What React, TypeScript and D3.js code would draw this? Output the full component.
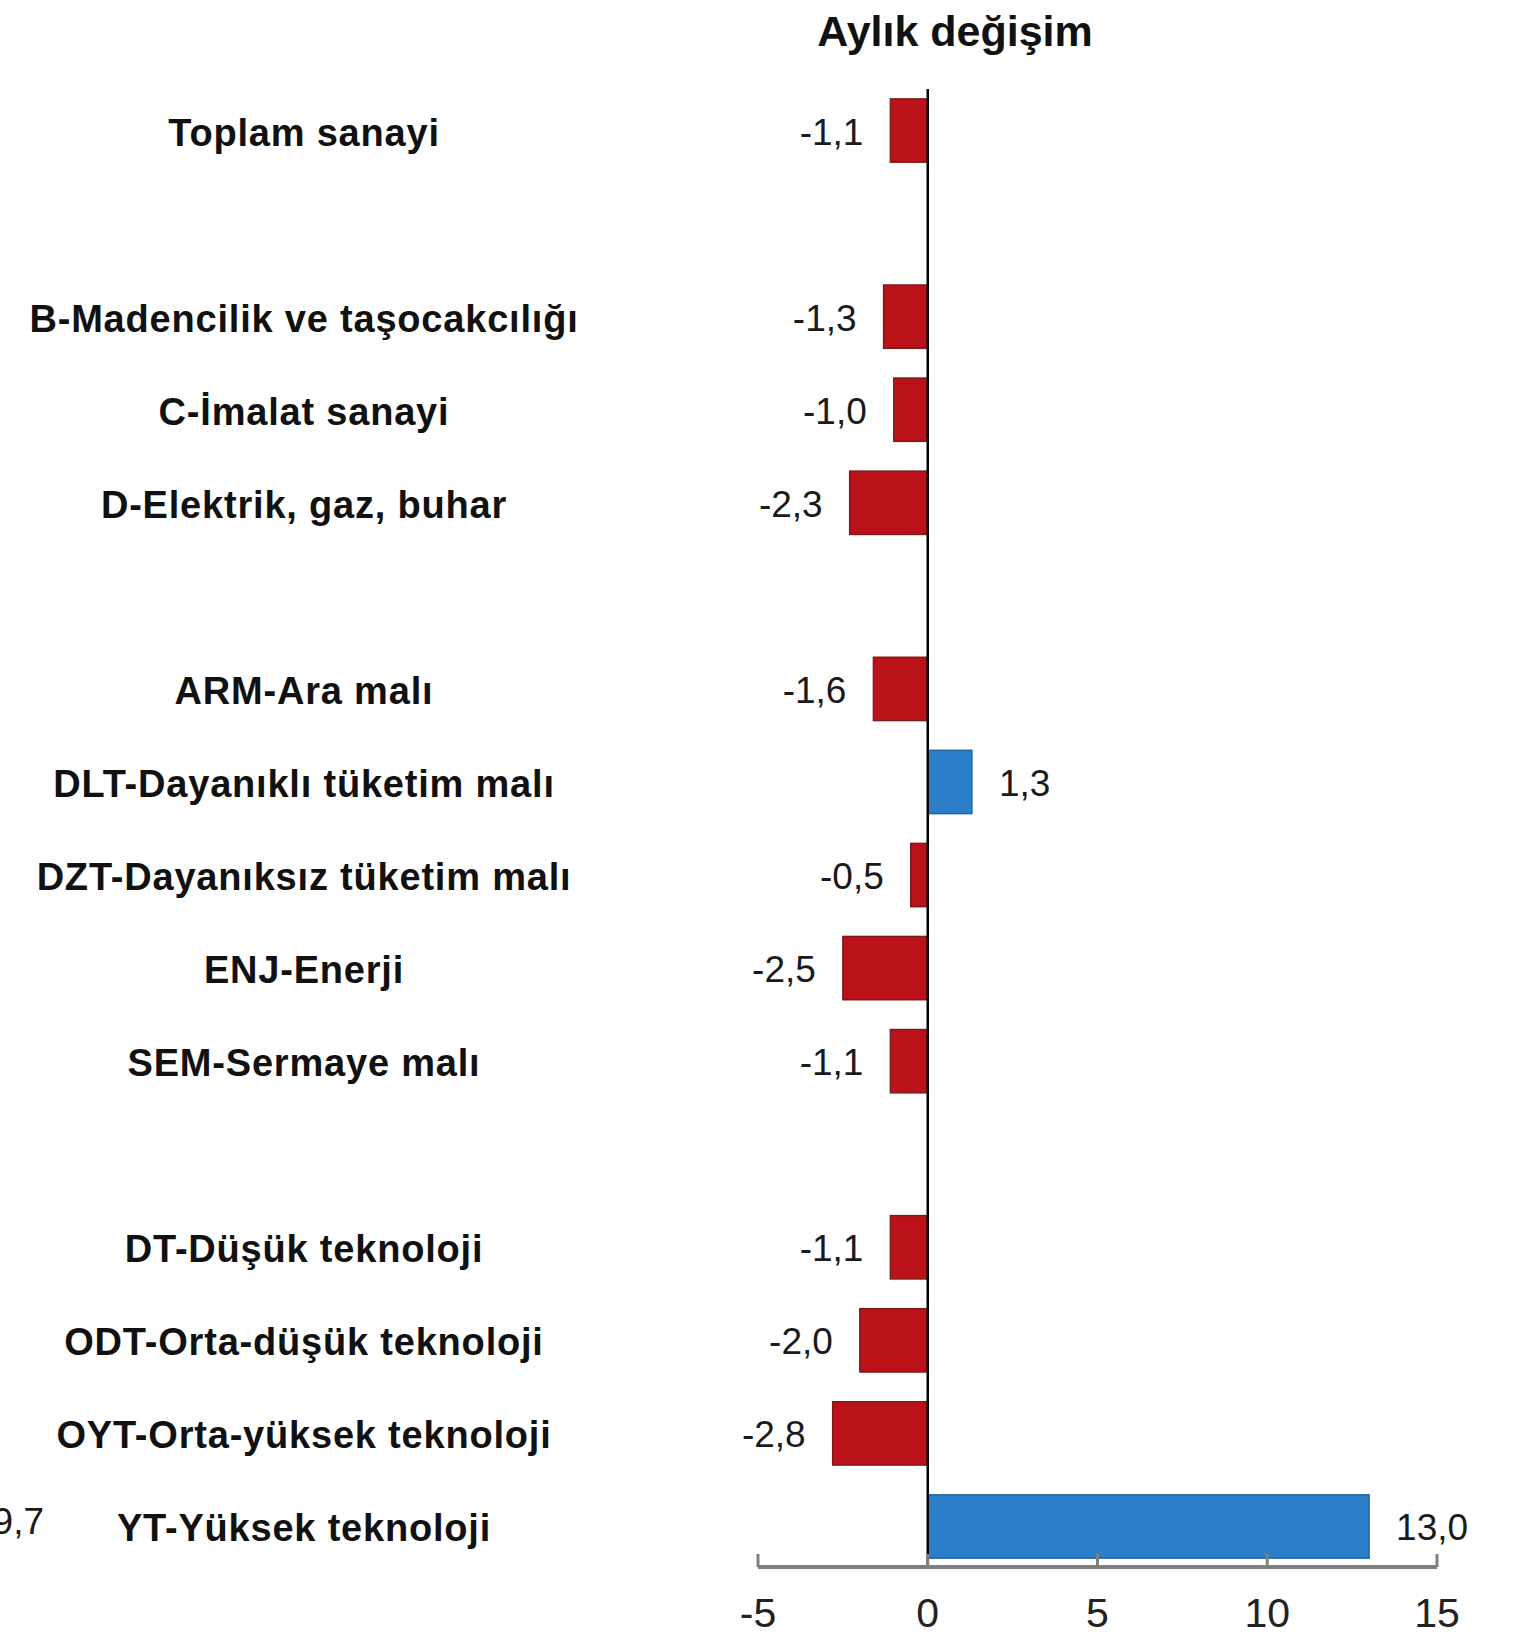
import React from 'react'
import * as d3 from 'd3'

// slots on the y axis, gaps are empty rows between groups
const categories = [
  'Toplam sanayi',
  'gap-1',
  'B-Madencilik ve taşocakcılığı',
  'C-İmalat sanayi',
  'D-Elektrik, gaz, buhar',
  'gap-2',
  'ARM-Ara malı',
  'DLT-Dayanıklı tüketim malı',
  'DZT-Dayanıksız tüketim malı',
  'ENJ-Enerji',
  'SEM-Sermaye malı',
  'gap-3',
  'DT-Düşük teknoloji',
  'ODT-Orta-düşük teknoloji',
  'OYT-Orta-yüksek teknoloji',
  'YT-Yüksek teknoloji'
]
const values: (number | null)[] = [
  -1.1, null, -1.3, -1.0, -2.3, null, -1.6, 1.3, -0.5, -2.5, -1.1, null, -1.1, -2.0, -2.8, 13.0
]
const xTicks = [-5, 0, 5, 10, 15]
const title = 'Aylık değişim'
// leftover label from the neighbouring (annual) panel, clipped at the edge
const clippedLabel = '9,7'

const W = 1523
const H = 1638
const FONT = '"Liberation Sans", Arial, Helvetica, sans-serif'
const axisY = 1567
const labelX = 304

const fmt = (v: number) => v.toFixed(1).replace('.', ',')

export default function App() {
  const x = d3.scaleLinear().domain([-5, 15]).range([758, 1437])
  const y = d3
    .scaleBand<string>()
    .domain(categories)
    .range([84, 1573])
    .paddingInner(0.32)
    .paddingOuter(0.16)

  const rows = categories
    .map((c, i) => ({ name: c, value: values[i] }))
    .filter(d => d.value !== null) as { name: string; value: number }[]

  const bw = y.bandwidth()
  const x0 = x(0)

  return (
    <div style={{ position: 'absolute', left: 0, top: 0, background: '#fff' }}>
      <svg width={W} height={H} style={{ display: 'block' }} fontFamily={FONT}>
        <rect width={W} height={H} fill="#fff" />

        {/* title */}
        <text x={955} y={46} textAnchor="middle" fontSize={43} fontWeight="bold" fill="#111">
          {title}
        </text>

        {/* bars */}
        {rows.map(d => {
          const yy = y(d.name)!
          const pos = d.value >= 0
          return (
            <rect
              key={d.name}
              x={Math.min(x(d.value), x0)}
              y={yy}
              width={Math.abs(x(d.value) - x0)}
              height={bw}
              fill={pos ? '#2a7fc8' : '#bb1219'}
              stroke={pos ? '#2265a3' : '#7e1a1a'}
              strokeWidth={1.5}
            />
          )
        })}

        {/* category labels */}
        {rows.map(d => (
          <text
            key={'l-' + d.name}
            x={labelX}
            y={y(d.name)! + bw / 2 + 15}
            textAnchor="middle"
            fontSize={38}
            fontWeight="bold"
            letterSpacing={0.8}
            fill="#111"
          >
            {d.name}
          </text>
        ))}

        {/* value labels */}
        {rows.map(d => {
          const pos = d.value >= 0
          return (
            <text
              key={'v-' + d.name}
              x={pos ? x(d.value) + 27 : x(d.value) - 27}
              y={y(d.name)! + bw / 2 + 14}
              textAnchor={pos ? 'start' : 'end'}
              fontSize={37}
              fill="#1a1a1a"
            >
              {fmt(d.value)}
            </text>
          )
        })}

        <text
          x={44}
          y={y('YT-Yüksek teknoloji')! + bw / 2 + 8}
          textAnchor="end"
          fontSize={37}
          fill="#1a1a1a"
        >
          {clippedLabel}
        </text>

        {/* zero line */}
        <line x1={x0} x2={x0} y1={89} y2={axisY} stroke="#000" strokeWidth={2.5} />

        {/* bottom axis */}
        <line x1={x(-5)} x2={x(15)} y1={axisY} y2={axisY} stroke="#7f7f7f" strokeWidth={4} />
        {xTicks.map(t => (
          <g key={t}>
            <line x1={x(t)} x2={x(t)} y1={axisY} y2={axisY - 13} stroke="#7f7f7f" strokeWidth={3} />
            <text x={x(t)} y={1627} textAnchor="middle" fontSize={41} fill="#222">
              {t}
            </text>
          </g>
        ))}
      </svg>
    </div>
  )
}
